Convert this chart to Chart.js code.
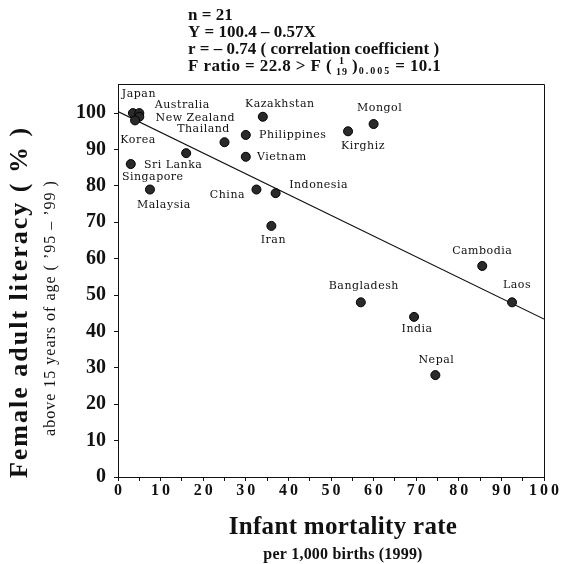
<!DOCTYPE html>
<html>
<head>
<meta charset="utf-8">
<script src="https://cdn.jsdelivr.net/npm/chart.js@4"></script>
<style>
  html, body { margin: 0; padding: 0; background: #fff; }
  canvas { display: block; }
</style>
</head>
<body>
<canvas id="literacy-chart" width="561" height="564"></canvas>
<script>
const $literacyCtx = document.getElementById("literacy-chart");

const COUNTRIES = [
  "Japan", "Australia", "New Zealand", "Korea", "Thailand", "Sri Lanka",
  "Singapore", "Malaysia", "Kazakhstan", "Philippines", "Vietnam", "China",
  "Indonesia", "Iran", "Mongol", "Kirghiz", "Cambodia", "Laos",
  "Bangladesh", "India", "Nepal",
];
// infant mortality per 1,000 births (1999)
const MORTALITY = [
  3.5, 5, 5, 4, 25, 16, 3, 7.5, 34, 30, 30, 32.5, 37, 36, 60, 54, 85.5, 92.5,
  57, 69.5, 74.5,
];
// female adult literacy, %
const LITERACY = [
  100, 100, 99, 98, 92, 89, 86, 79, 99, 94, 88, 79, 78, 69, 97, 95, 58, 48,
  48, 44, 28,
];

const X_TICKS = [0, 10, 20, 30, 40, 50, 60, 70, 80, 90, 100];

// regression from the header text
const INTERCEPT = 100.4;
const SLOPE = -0.57;

const HEADER_LINES = [
  "n = 21",
  "Y = 100.4 \u2013 0.57X",
  "r = \u2013 0.74 ( correlation coefficient )",
];

// where each country name sits relative to its dot, in px
const LABEL_OFFSETS = [
  [6, -19], [43, -8], [56, 1], [3, 20], [-21, -13], [-13, 12],
  [22, 13], [14, 16], [17, -13], [47, 0], [36, 0], [-29, 6],
  [43, -8], [2, 14], [6, -16], [15, 15], [0, -15], [5, -17],
  [3, -16], [3, 12], [1, -15],
];

const INK = "#111";
const SERIF = "'Liberation Serif', 'Times New Roman', serif";

const labelsPlugin = {
  id: "labels",
  afterDraw(chart) {
    const ctx = chart.ctx;
    const area = chart.chartArea;
    const xScale = chart.scales.x;

    ctx.save();
    ctx.fillStyle = INK;
    ctx.strokeStyle = INK;

    // frame top and right
    ctx.lineWidth = 1;
    ctx.beginPath();
    ctx.moveTo(area.left, area.top + 0.5);
    ctx.lineTo(area.right + 0.5, area.top + 0.5);
    ctx.lineTo(area.right + 0.5, area.bottom);
    ctx.stroke();

    // country names
    const meta = chart.getDatasetMeta(0);
    ctx.font = "11px 'DejaVu Serif', serif";
    ctx.letterSpacing = "0.5px";
    ctx.textAlign = "center";
    ctx.textBaseline = "middle";
    meta.data.forEach((pt, i) => {
      const [dx, dy] = LABEL_OFFSETS[i];
      ctx.fillText(COUNTRIES[i], pt.x + dx, pt.y + dy);
    });

    // x tick labels, spaced out
    ctx.font = "bold 16px " + SERIF;
    ctx.letterSpacing = "3px";
    X_TICKS.forEach((v) => {
      ctx.fillText(String(v), xScale.getPixelForValue(v) + 1.5, area.bottom + 14);
    });

    // axis titles
    ctx.font = "bold 25px " + SERIF;
    ctx.letterSpacing = "0.3px";
    ctx.fillText("Infant mortality rate", 343, 528);
    ctx.font = "bold 16px " + SERIF;
    ctx.letterSpacing = "0.2px";
    ctx.fillText("per 1,000 births (1999)", 343, 555);

    ctx.save();
    ctx.translate(20, 302);
    ctx.rotate(-Math.PI / 2);
    ctx.font = "bold 26px " + SERIF;
    ctx.letterSpacing = "2px";
    ctx.fillText("Female adult literacy ( % )", 0, 0);
    ctx.restore();

    ctx.save();
    ctx.translate(51, 308);
    ctx.rotate(-Math.PI / 2);
    ctx.font = "16px " + SERIF;
    ctx.letterSpacing = "1px";
    ctx.fillText("above 15 years of age ( \u201995 \u2013 \u201999 )", 0, 0);
    ctx.restore();

    // header block
    ctx.letterSpacing = "0px";
    ctx.textAlign = "left";
    const big = "bold 17px " + SERIF;
    const small = "bold 10px " + SERIF;
    const left = 188;
    ctx.font = big;
    HEADER_LINES.forEach((line, i) => {
      ctx.fillText(line, left, 16 + i * 17);
    });

    // F ratio line with the stacked degrees of freedom
    const fy = 16 + 3 * 17;
    let x = left;
    const part = (txt, font, y, spacing, gap) => {
      ctx.font = font;
      ctx.letterSpacing = spacing;
      ctx.fillText(txt, x, y);
      x += ctx.measureText(txt).width + gap;
    };
    part("F ratio = 22.8 > F (", big, fy, "0.4px", 4);
    ctx.font = small;
    ctx.letterSpacing = "0px";
    ctx.fillText("1", x + 3, fy - 6);
    part("19", small, fy + 5, "1px", 4);
    part(")", big, fy, "0px", 1);
    part("0.005", small, fy + 4, "2px", 4);
    part("= 10.1", big, fy, "0.4px", 0);

    ctx.restore();
  },
};

const data = {
  datasets: [
    {
      type: "scatter",
      label: "Countries",
      data: MORTALITY.map((m, i) => ({ x: m, y: LITERACY[i] })),
      backgroundColor: "#2a2a2a",
      borderColor: "#000",
      borderWidth: 1,
      pointRadius: 4.5,
    },
    {
      type: "line",
      label: "Regression",
      data: [0, 100].map((v) => ({ x: v, y: INTERCEPT + SLOPE * v })),
      borderColor: INK,
      borderWidth: 1.2,
      pointRadius: 0,
      fill: false,
    },
  ],
};

new Chart($literacyCtx, {
  type: "scatter",
  data,
  options: {
    responsive: false,
    animation: false,
    devicePixelRatio: 1,
    layout: {
      padding: { left: 0, top: 84, right: 17, bottom: 0 },
    },
    plugins: {
      legend: { display: false },
      tooltip: { enabled: false },
    },
    scales: {
      x: {
        type: "linear",
        min: 0,
        max: 100,
        afterFit: (scale) => {
          scale.height = 87;
        },
        ticks: {
          display: false,
          stepSize: 5,
        },
        grid: {
          drawOnChartArea: false,
          drawTicks: true,
          tickLength: 4,
          color: INK,
        },
        border: { display: true, color: INK, width: 1 },
      },
      y: {
        type: "linear",
        min: 0,
        max: 108,
        afterFit: (scale) => {
          scale.width = 118;
        },
        ticks: {
          stepSize: 5,
          includeBounds: false,
          padding: 8,
          color: INK,
          font: { family: SERIF, size: 20, weight: "bold" },
          callback: (v) => (v % 10 === 0 ? v : ""),
        },
        grid: {
          drawOnChartArea: false,
          drawTicks: true,
          tickLength: 4,
          color: INK,
        },
        border: { display: true, color: INK, width: 1 },
      },
    },
  },
  plugins: [labelsPlugin],
});
</script>
</body>
</html>
